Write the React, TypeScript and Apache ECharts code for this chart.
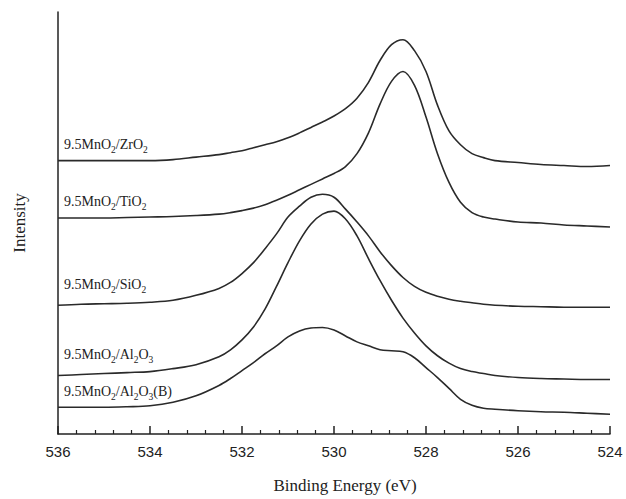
import React, { useEffect, useRef } from 'react';
import * as echarts from 'echarts';

// Binding energy grid (eV) and intensities (arbitrary units, curves offset vertically)
const energies = [
  536, 535.5, 535, 534.5, 534, 533.5, 533, 532.5, 532.25, 532, 531.75, 531.5, 531.25, 531,
  530.75, 530.5, 530.25, 530, 529.75, 529.5, 529.25, 529, 528.75, 528.5, 528.25, 528,
  527.75, 527.5, 527.25, 527, 526.75, 526.5, 526, 525.5, 525, 524.5, 524,
];
const zrO2 = [
  276, 276, 276, 276, 276, 277, 279.5, 282, 284, 286, 289, 292, 295, 299,
  304, 309.5, 315, 321, 328.5, 339, 355, 377, 393, 398, 387, 366,
  332, 306, 292, 283, 279, 276, 274, 272, 271, 270, 271,
];
const tiO2 = [
  218, 218, 218, 218.5, 219, 219.5, 220.5, 222, 223.5, 225.5, 228, 231.5, 236, 241,
  246.5, 252, 257.5, 263, 270, 283, 304, 333, 356, 366, 352, 320,
  283, 254, 234, 223.5, 219, 217, 214, 213, 211, 210, 209,
];
const siO2 = [
  130, 131, 131.5, 132, 133, 135, 140, 147, 153, 162, 173, 187, 202, 219,
  230, 239, 242, 239, 227, 214, 200, 184, 170, 158, 149, 143,
  139, 136, 134, 132.5, 131, 130, 129, 128.5, 128, 128, 128,
];
const al2O3 = [
  59, 60, 61, 62, 63, 66, 70, 78, 85, 95, 108, 126, 149, 173,
  195, 212, 222, 225, 217, 200, 177, 155, 135, 117, 102, 89,
  79, 71.5, 66, 63, 61, 59, 57, 56, 55.5, 55, 55,
];
const al2O3B = [
  27, 27, 27, 27.5, 28.5, 32, 38.5, 49, 56, 64, 72, 81, 89, 98,
  104, 107, 107.5, 105, 99, 93, 89, 85, 84, 83, 77, 67,
  57, 46, 35, 29, 26, 25, 23.5, 22.5, 22, 21, 20,
];

const seriesValues = [zrO2, tiO2, siO2, al2O3, al2O3B];
const seriesNames = ['9.5MnO2/ZrO2', '9.5MnO2/TiO2', '9.5MnO2/SiO2', '9.5MnO2/Al2O3', '9.5MnO2/Al2O3(B)'];
const labelRich = [
  '{a|9.5MnO}{s|2}{a|/ZrO}{s|2}',
  '{a|9.5MnO}{s|2}{a|/TiO}{s|2}',
  '{a|9.5MnO}{s|2}{a|/SiO}{s|2}',
  '{a|9.5MnO}{s|2}{a|/Al}{s|2}{a|O}{s|3}',
  '{a|9.5MnO}{s|2}{a|/Al}{s|2}{a|O}{s|3}{a|(B)}',
];
const labelE = 535.87;
const labelI = [292, 235, 151, 80, 43];

const ink = '#222';
const serif = '"Liberation Serif", "Times New Roman", serif';

export default function App() {
  const ref = useRef<HTMLDivElement>(null);
  useEffect(() => {
    const chart = echarts.init(ref.current!, null, { renderer: 'svg' });
    chart.setOption({
      animation: false,
      backgroundColor: '#fff',
      grid: { left: 58, right: 16, top: 12, bottom: 61 },
      xAxis: {
        type: 'value', min: 524, max: 536, interval: 2, inverse: true,
        axisLine: { lineStyle: { color: ink, width: 1.5 } },
        axisTick: { inside: true, length: 8, lineStyle: { color: ink, width: 1.5 } },
        minorTick: { show: true, splitNumber: 5, length: 4, lineStyle: { color: ink, width: 1.2 } },
        axisLabel: { color: ink, fontSize: 15, fontFamily: '"Liberation Sans", Arial, sans-serif', margin: 10 },
        splitLine: { show: false },
        minorSplitLine: { show: false },
        name: 'Binding Energy (eV)', nameLocation: 'middle', nameGap: 43,
        nameTextStyle: { fontFamily: serif, fontSize: 17, color: ink, padding: [0, 0, 0, 22] },
      },
      yAxis: {
        type: 'value', min: 0, max: 426,
        axisLine: { show: true, onZero: false, lineStyle: { color: ink, width: 1.5 } },
        axisTick: { show: false }, axisLabel: { show: false }, splitLine: { show: false },
        name: 'Intensity', nameLocation: 'middle', nameGap: 30,
        nameTextStyle: { fontFamily: serif, fontSize: 17, color: ink },
      },
      series: seriesValues.map((vals, i) => ({
        name: seriesNames[i], type: 'line',
        data: energies.map((e, j) => [e, vals[j]]),
        symbol: 'none', smooth: 0.35,
        lineStyle: { color: '#2a2a2a', width: 1.6 },
      })),
    });
    const graphics = labelRich.map((t, i) => {
      const [px, py] = chart.convertToPixel({ gridIndex: 0 }, [labelE, labelI[i]]) as number[];
      return {
        type: 'text', x: px, y: py,
        style: {
          text: t, align: 'left', verticalAlign: 'middle', fill: ink,
          rich: {
            a: { fontSize: 14, fontFamily: serif, fill: ink },
            s: { fontSize: 9.5, fontFamily: serif, fill: ink, padding: [11, 0, 0, 0] },
          },
        },
      };
    });
    chart.setOption({ graphic: graphics });
    return () => chart.dispose();
  }, []);
  return <div ref={ref} style={{ position: 'fixed', left: 0, top: 0, width: 626, height: 499 }} />;
}
